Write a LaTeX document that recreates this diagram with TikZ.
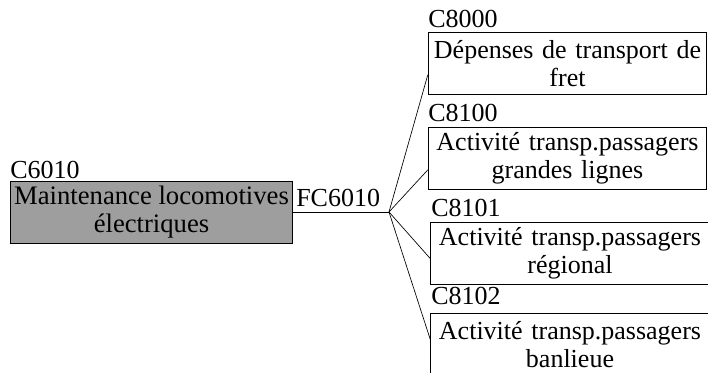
\documentclass[tikz,border=0pt]{standalone}
\usepackage{fontspec}
\setmainfont{Liberation Serif}
\usetikzlibrary{calc}
\begin{document}
\begin{tikzpicture}[x=0.75pt,y=-0.75pt,
  every node/.style={font=\fontsize{19.5}{21}\selectfont},
  costbox/.style={draw=black,line width=0.6pt,rectangle,minimum width=209pt,
    minimum height=47pt,text width=208pt,align=center,inner sep=0.5pt},
  srcbox/.style={draw=black,line width=0.6pt,fill=black!38,rectangle,minimum width=212pt,
    minimum height=46pt,align=center,inner sep=0pt,
    font=\fontsize{20}{21}\selectfont},
  code/.style={anchor=base west,inner sep=0pt},
  link/.style={draw=black,line width=0.5pt}]
\useasboundingbox (0,0) rectangle (708,373);
\begin{scope}
\clip (0,0) rectangle (708,373);
% source centre
\node[srcbox] (src) at (151.5,212.5) {Maintenance locomotives\\électriques};
\node[code] (srccode) at (10,179) {C6010};
\node[code] (fc) at (296,207) {FC6010};
\coordinate (hub) at (389,212);
% destination centres
\node[costbox] (b1) at (567.5,63.5) {Dépenses de transport de\\fret};
\node[costbox] (b2) at (567.5,158.5) {Activité transp.passagers\\grandes lignes};
\node[costbox] (b3) at (570,253.5) {Activité transp.passagers\\régional};
\node[costbox] (b4) at (570,344.5) {Activité transp.passagers\\banlieue};
\node[code] (c1) at (428,28) {C8000};
\node[code] (c2) at (428,122) {C8100};
\node[code] (c3) at (431,217) {C8101};
\node[code] (c4) at (431,305) {C8102};
% links
\draw[link] (src.east |- hub) -- (hub);
\draw[link] (hub) -- ($(b1.north west)!0.68!(b1.south west)$);
\draw[link] (hub) -- ($(b2.north west)!0.68!(b2.south west)$);
\draw[link] (hub) -- ($(b3.north west)!0.58!(b3.south west)$);
\draw[link] (hub) -- ($(b4.north west)!0.42!(b4.south west)$);
\end{scope}
\end{tikzpicture}
\end{document}
